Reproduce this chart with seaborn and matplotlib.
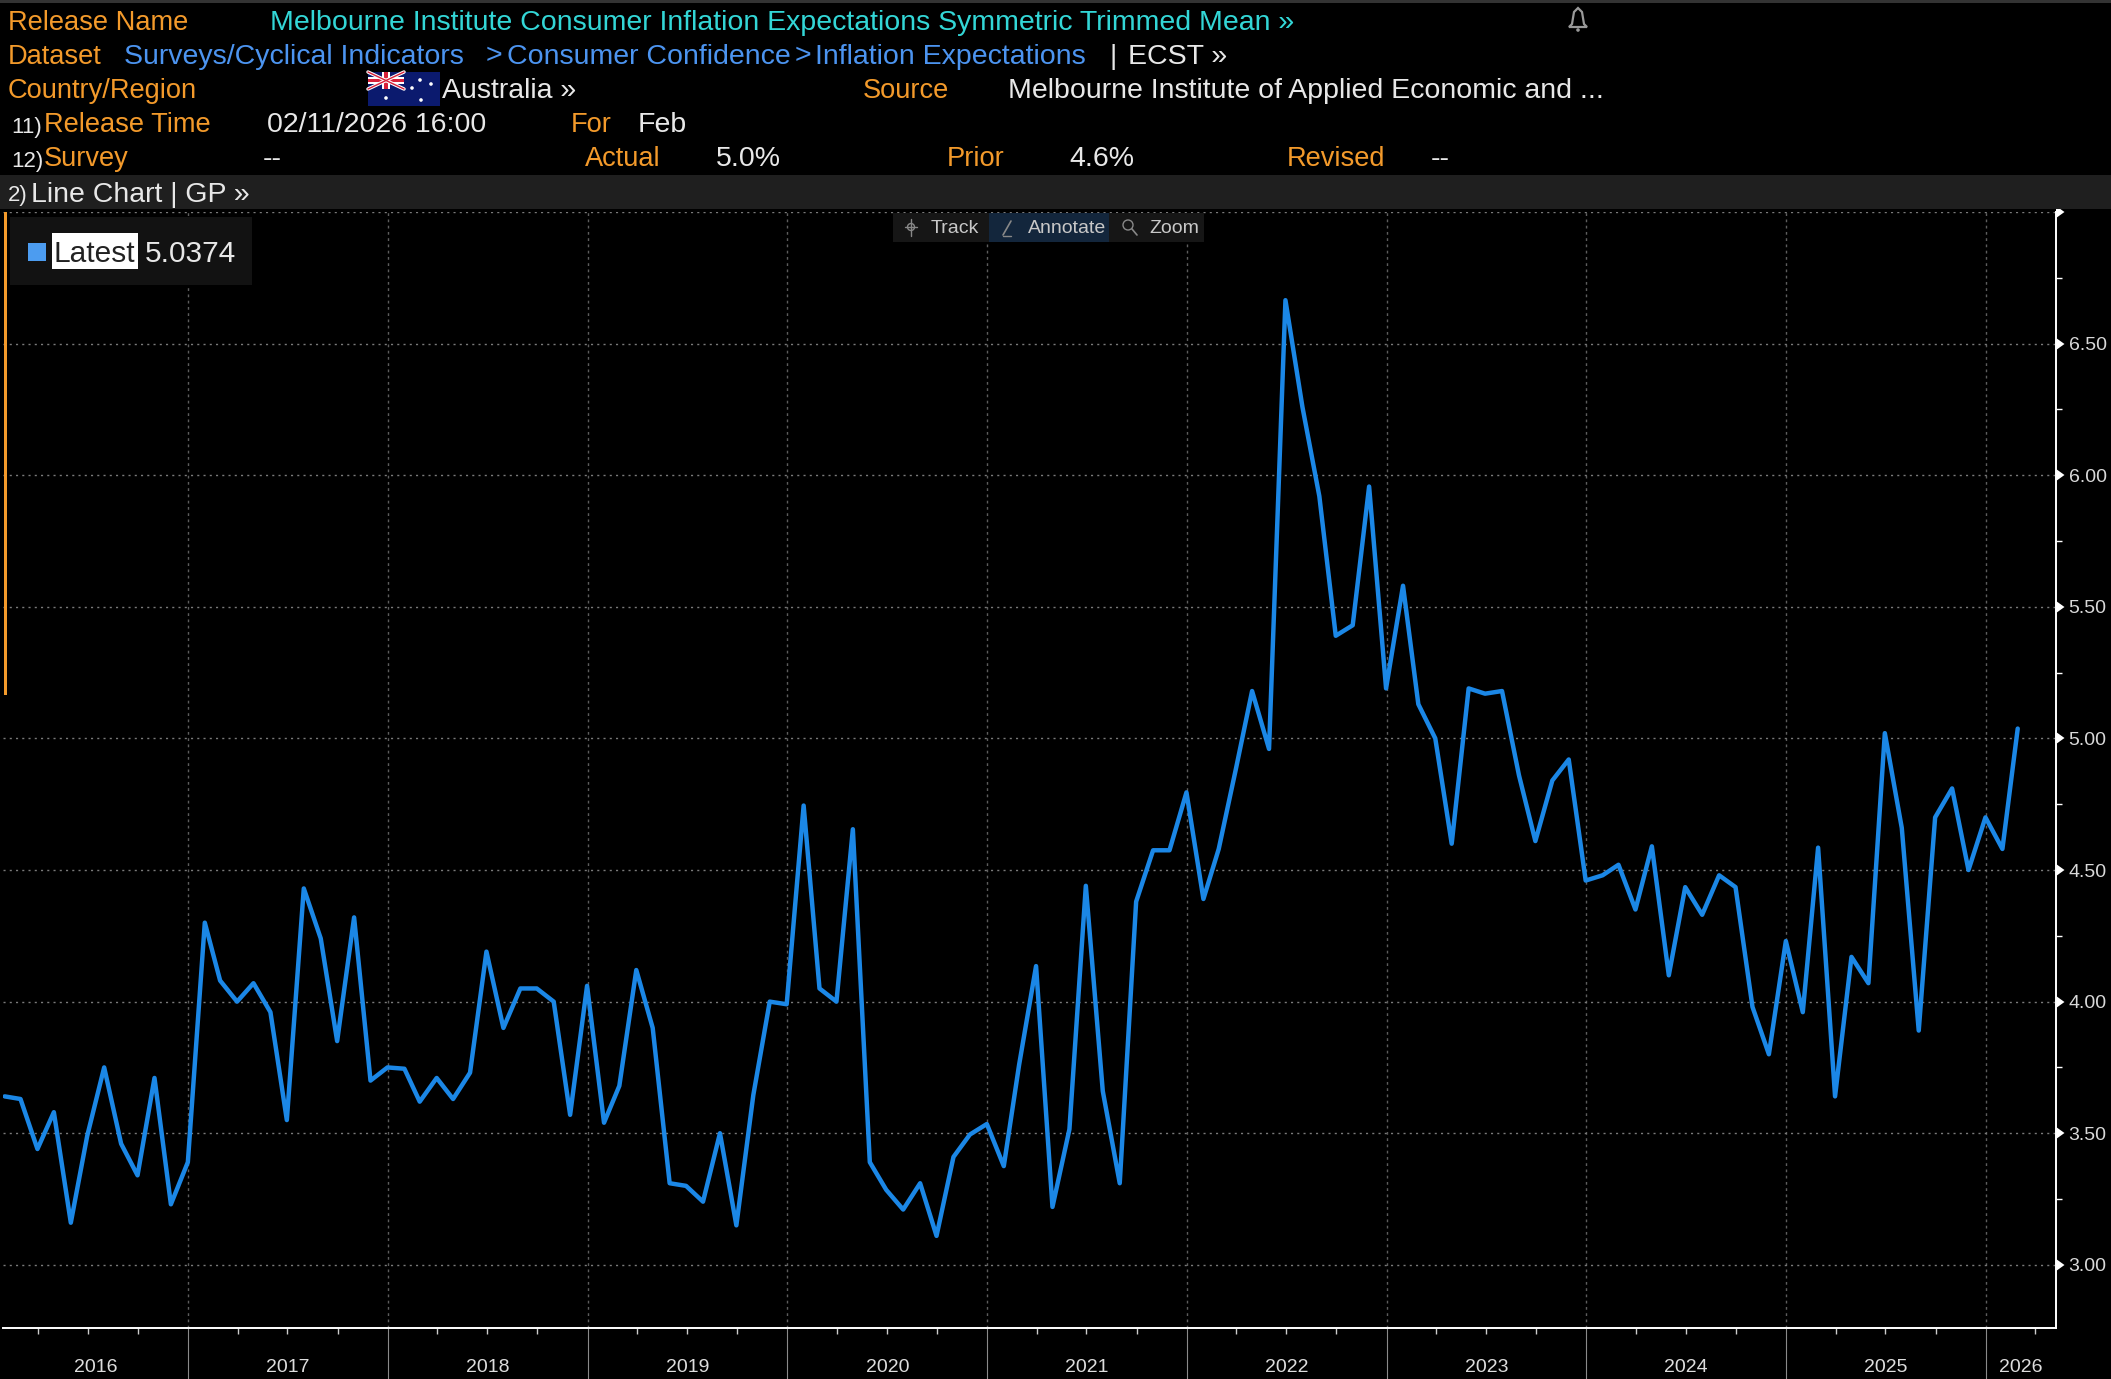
import matplotlib
matplotlib.use("Agg")
import matplotlib.dates as mdates
import matplotlib.markers as mmarkers
import matplotlib.pyplot as plt
import matplotlib.ticker as mticker
import matplotlib.transforms as mtrans
import numpy as np
import pandas as pd
import seaborn as sns
from matplotlib.patches import Circle, Polygon, Rectangle

# monthly readings, Jan 2016 to Feb 2026
latest_values = [
    3.64, 3.63, 3.44, 3.58, 3.16, 3.49, 3.75, 3.46, 3.34, 3.71, 3.23, 3.39,
    4.30, 4.08, 4.00, 4.07, 3.96, 3.55, 4.43, 4.24, 3.85, 4.32, 3.70, 3.75,
    3.745, 3.62, 3.71, 3.63, 3.73, 4.19, 3.90, 4.05, 4.05, 4.00, 3.57, 4.06,
    3.54, 3.68, 4.12, 3.90, 3.31, 3.30, 3.24, 3.50, 3.15, 3.645, 4.00, 3.99,
    4.745, 4.05, 4.00, 4.655, 3.39, 3.285, 3.21, 3.31, 3.11, 3.41, 3.495, 3.535,
    3.375, 3.76, 4.135, 3.22, 3.515, 4.44, 3.66, 3.31, 4.38, 4.575, 4.575, 4.795,
    4.39, 4.58, 4.88, 5.18, 4.96, 6.665, 6.26, 5.92, 5.39, 5.43, 5.957, 5.19,
    5.58, 5.13, 5.00, 4.60, 5.19, 5.17, 5.18, 4.86, 4.61, 4.84, 4.92, 4.46,
    4.48, 4.52, 4.35, 4.59, 4.10, 4.435, 4.33, 4.48, 4.435, 3.98, 3.80, 4.23,
    3.96, 4.585, 3.64, 4.17, 4.07, 5.02, 4.66, 3.89, 4.70, 4.81, 4.50, 4.70,
    4.58, 5.0374,
]
month_ends = pd.date_range("2016-01-31", periods=len(latest_values), freq="ME")
years = list(range(2016, 2027))
y_ticks = [3.0, 3.5, 4.0, 4.5, 5.0, 5.5, 6.0, 6.5, 7.0]

ORANGE = "#f39a2b"
CYAN = "#33d6d6"
LINK = "#4c94f0"
WHITE = "#e8e8e8"
BLUE = "#1b87e6"
W, H = 2111, 1379

sns.set_theme(style="darkgrid", rc={
    "figure.facecolor": "black",
    "axes.facecolor": "black",
    "savefig.facecolor": "black",
})
plt.rcParams["font.family"] = ["Liberation Sans", "DejaVu Sans"]

fig = plt.figure(figsize=(W / 100, H / 100), dpi=100)
ax = fig.add_axes([3 / W, 1 - 1328 / H, (2056 - 3) / W, (1328 - 212) / H])

df = pd.DataFrame({"date": month_ends, "latest": latest_values})
sns.lineplot(data=df, x="date", y="latest", color=BLUE, linewidth=3.2, ax=ax)

x_left, x_right = pd.Timestamp("2016-01-28"), pd.Timestamp("2026-05-09")
ax.set_xlim(x_left, x_right)
ax.set_ylim(2.76, 7.0)
ax.set_xlabel("")
ax.set_ylabel("")
ax.set_axisbelow(True)

# x axis: year separators run down through the label strip
ax.xaxis.set_major_locator(mdates.YearLocator())
ax.xaxis.set_major_formatter(mticker.NullFormatter())
ax.xaxis.set_minor_locator(mdates.MonthLocator(bymonth=(4, 7, 10)))
ax.tick_params(axis="x", which="major", bottom=True, length=37, width=0.8, color="#8a8a8a")
ax.tick_params(axis="x", which="minor", bottom=True, length=4, width=1, color="#cccccc")

# y axis on the right with arrow ticks
ax.yaxis.tick_right()
ax.set_yticks(y_ticks)
ax.yaxis.set_minor_locator(mticker.MultipleLocator(0.25))
ax.yaxis.set_major_formatter(mticker.FuncFormatter(lambda v, _: "" if v >= 7 else f"{v:.2f}"))
ax.tick_params(axis="y", which="major", right=True, labelright=True, length=7, pad=2,
               labelsize=14, labelcolor="#d8d8d8", color="white")
ax.tick_params(axis="y", which="minor", right=True, length=4, width=1, color="white")
for tick in ax.yaxis.get_major_ticks(len(y_ticks)):
    tick.tick2line.set_marker(mmarkers.CARETRIGHTBASE)
    tick.tick2line.set_markersize(7)

ax.grid(False)
ax.grid(True, which="major", axis="y", color="#7a7a7a", linewidth=1, linestyle=(0, (1.5, 3)))
ax.grid(True, which="major", axis="x", color="#5e5e5e", linewidth=1, linestyle=(0, (2, 2.5)))

for side in ["left", "top"]:
    ax.spines[side].set_visible(False)
for side in ["bottom", "right"]:
    ax.spines[side].set_visible(True)
    ax.spines[side].set_color("white")
    ax.spines[side].set_linewidth(1.4)

# year labels sit in the middle of the visible part of each year
trans = mtrans.blended_transform_factory(ax.transData, ax.transAxes)
for yr in years:
    start = max(pd.Timestamp(yr, 1, 1), x_left)
    end = min(pd.Timestamp(yr + 1, 1, 1), x_right)
    mid = start + (end - start) / 2
    ax.text(mdates.date2num(mid), -0.035, str(yr), transform=trans, ha="center", va="center",
            fontsize=14, color="#dddddd", clip_on=False)

# overlay in pixel coordinates for the terminal header
ov = fig.add_axes([0, 0, 1, 1], zorder=5)
ov.set_xlim(0, W)
ov.set_ylim(H, 0)
ov.axis("off")
ov.patch.set_alpha(0)


def label(x, y, s, color=WHITE, size=20.5):
    ov.text(x, y, s, color=color, fontsize=size, ha="left", va="baseline")


def key(x, y, s):
    label(x, y, s, ORANGE, 19.6)


def box(x0, y0, x1, y1, color):
    ov.add_patch(Rectangle((x0, y0), x1 - x0, y1 - y0, color=color, linewidth=0))


box(0, 0, W, 3, "#333333")
box(0, 175, W, 209, "#1f1f1f")
box(4, 212, 7, 695, ORANGE)

key(8, 30.5, "Release Name")
label(270, 30.5, "Melbourne Institute Consumer Inflation Expectations Symmetric Trimmed Mean »", CYAN)
key(8, 63.5, "Dataset")
label(124, 63.5, "Surveys/Cyclical Indicators", LINK)
label(486, 63.5, ">", LINK)
label(507, 63.5, "Consumer Confidence", LINK)
label(795, 63.5, ">", LINK)
label(815, 63.5, "Inflation Expectations", LINK)
label(1109, 63.5, "|")
label(1128, 63.5, "ECST »")
key(8, 97.5, "Country/Region")
label(442, 97.5, "Australia »")
key(863, 97.5, "Source")
label(1008, 97.5, "Melbourne Institute of Applied Economic and ...")
label(11, 132.5, "11)", WHITE, 16)
key(44, 132.5, "Release Time")
label(267, 132.5, "02/11/2026 16:00")
key(571, 132.5, "For")
label(638, 132.5, "Feb")
label(11, 166.5, "12)", WHITE, 16)
key(44, 166.5, "Survey")
label(263, 166.5, "--")
key(585, 166.5, "Actual")
label(716, 166.5, "5.0%")
key(947, 166.5, "Prior")
label(1069, 166.5, "4.6%")
key(1287, 166.5, "Revised")
label(1431, 166.5, "--")
label(8, 201.5, "2)", WHITE, 16)
label(31, 201.5, "Line Chart | GP »")

# flag
box(368, 72, 440, 106, "#0b1a6e")
ov.plot([368, 404], [72, 89], color="white", lw=2.5)
ov.plot([368, 404], [89, 72], color="white", lw=2.5)
ov.plot([368, 404], [72, 89], color="#d8213a", lw=1)
ov.plot([368, 404], [89, 72], color="#d8213a", lw=1)
box(368, 77, 404, 84, "white")
box(382, 72, 390, 89, "white")
box(368, 79, 404, 82, "#d8213a")
box(384, 72, 388, 89, "#d8213a")
for sx, sy in [(386, 98), (420, 80), (431, 84), (412, 88), (421, 100)]:
    ov.add_patch(Circle((sx, sy), 1.8, color="white", linewidth=0))

# bell
ov.add_patch(Polygon([(1572, 24), (1574, 12), (1578, 8), (1582, 12), (1584, 24), (1587, 27),
                      (1569, 27)], closed=True, fill=False, edgecolor="#999999", linewidth=1.6))
ov.add_patch(Circle((1578, 30), 1.8, color="#999999", linewidth=0))

# legend chip
box(10, 217, 252, 285, "#121212")
box(28, 243, 46, 261, "#4c9cf0")
box(52, 233, 138, 269, "white")
label(53, 262, "Latest", "#222222", 21.5)
label(145, 262, "5.0374", WHITE, 21.5)

# toolbar
box(893, 213, 989, 242, "#161616")
box(989, 213, 1109, 242, "#13263c")
box(1109, 213, 1204, 242, "#161616")
label(931, 233, "Track", "#c8c8c8", 14)
label(1028, 233, "Annotate", "#c8c8c8", 14)
label(1149, 233, "Zoom", "#c8c8c8", 14)
ov.plot([911, 911], [219, 236], color="#888888", lw=1)
ov.plot([905, 917], [227, 227], color="#888888", lw=1)
ov.add_patch(Circle((911, 227), 3.5, fill=False, edgecolor="#888888", linewidth=1))
ov.plot([1003, 1011], [235, 221], color="#888888", lw=1.2)
ov.plot([1003, 1011], [236, 236], color="#888888", lw=1)
ov.add_patch(Circle((1128, 225), 5, fill=False, edgecolor="#888888", linewidth=1))
ov.plot([1132, 1137], [229, 235], color="#888888", lw=1.2)

fig.savefig("out.png", dpi=100)
